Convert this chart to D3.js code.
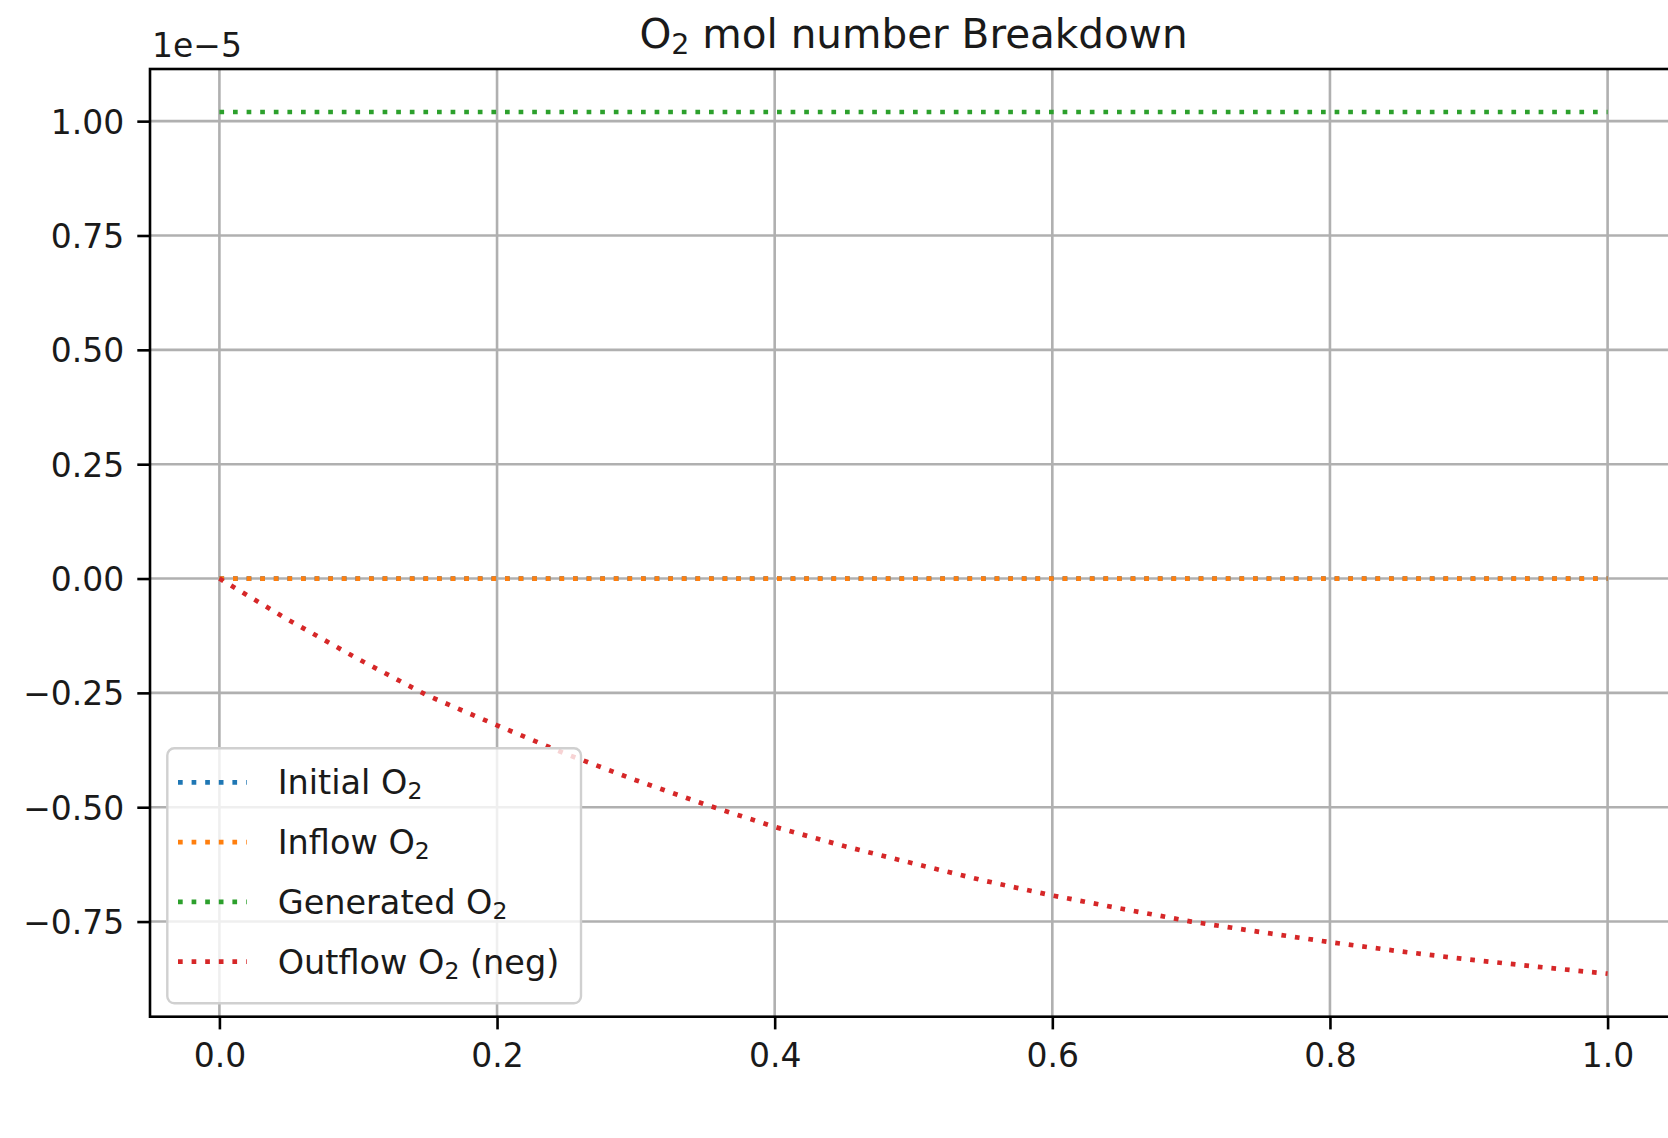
<!DOCTYPE html>
<html>
<head>
<meta charset="utf-8">
<script src="https://cdn.jsdelivr.net/npm/d3@7"></script>
<style>
  body { margin: 0; background: #fff; }
  text { font-family: "DejaVu Sans", sans-serif; fill: #1a1a1a; }
</style>
</head>
<body>
<svg id="chart"></svg>
<script>
// values are in units of 1e-5 mol (offset label shown top-left)
const timePoints  = [0, 0.05, 0.10, 0.15, 0.20, 0.25, 0.30, 0.35, 0.40, 0.45, 0.50,
                     0.55, 0.60, 0.65, 0.70, 0.75, 0.80, 0.85, 0.90, 0.95, 1.00];
const initialO2   = [0, 0, 0, 0, 0, 0, 0, 0, 0, 0, 0, 0, 0, 0, 0, 0, 0, 0, 0, 0, 0];
const inflowO2    = [0, 0, 0, 0, 0, 0, 0, 0, 0, 0, 0, 0, 0, 0, 0, 0, 0, 0, 0, 0, 0];
const generatedO2 = [1.02, 1.02, 1.02, 1.02, 1.02, 1.02, 1.02, 1.02, 1.02, 1.02, 1.02,
                     1.02, 1.02, 1.02, 1.02, 1.02, 1.02, 1.02, 1.02, 1.02, 1.02];
const outflowO2   = [0, -0.091, -0.176, -0.256, -0.321, -0.384, -0.441, -0.494, -0.543, -0.585, -0.623,
                     -0.660, -0.693, -0.722, -0.750, -0.773, -0.795, -0.815, -0.833, -0.849, -0.864];
const seriesNames = ["Initial O", "Inflow O", "Generated O", "Outflow O"];
const seriesTails = ["", "", "", " (neg)"];
const seriesColors = ["#1f77b4", "#ff7f0e", "#2ca02c", "#d62728"];
const xTicks = [0, 0.2, 0.4, 0.6, 0.8, 1.0];
const yTicks = [-0.75, -0.5, -0.25, 0, 0.25, 0.5, 0.75, 1.0];
const offsetLabel = "1e\u22125";

const W = 1668, H = 1138;
const margin = {left: 150, top: 69, right: 1677, bottom: 1016.7};

const svg = d3.select("#chart")
  .attr("width", W)
  .attr("height", H);

const x = d3.scaleLinear().domain([-0.05, 1.05]).range([margin.left, margin.right]);
const y = d3.scaleLinear().domain([-0.958, 1.114]).range([margin.bottom, margin.top]);

svg.append("defs").append("clipPath")
  .attr("id", "plotClip")
  .append("rect")
  .attr("x", margin.left)
  .attr("y", margin.top)
  .attr("width", margin.right - margin.left)
  .attr("height", margin.bottom - margin.top);

// grid
svg.append("g")
  .selectAll("line")
  .data(xTicks)
  .enter()
  .append("line")
  .attr("x1", d => x(d)).attr("x2", d => x(d))
  .attr("y1", margin.top).attr("y2", margin.bottom)
  .attr("stroke", "#b0b0b0")
  .attr("stroke-width", 2.6);

svg.append("g")
  .selectAll("line")
  .data(yTicks)
  .enter()
  .append("line")
  .attr("y1", d => y(d)).attr("y2", d => y(d))
  .attr("x1", margin.left).attr("x2", margin.right)
  .attr("stroke", "#b0b0b0")
  .attr("stroke-width", 2.6);

// series
const allSeries = [initialO2, inflowO2, generatedO2, outflowO2];
const line = d3.line()
  .x((d, i) => x(timePoints[i]))
  .y(d => y(d));

svg.append("g")
  .attr("clip-path", "url(#plotClip)")
  .selectAll("path")
  .data(allSeries)
  .enter()
  .append("path")
  .attr("d", d => line(d))
  .attr("fill", "none")
  .attr("stroke", (d, i) => seriesColors[i])
  .attr("stroke-width", 4.7)
  .attr("stroke-dasharray", "4.7 8.9");

// axes
const xAxis = svg.append("g")
  .attr("transform", `translate(0, ${margin.bottom})`)
  .call(d3.axisBottom(x).tickValues(xTicks).tickFormat(d3.format(".1f")).tickSize(12.7).tickPadding(13));
const yAxis = svg.append("g")
  .attr("transform", `translate(${margin.left}, 0)`)
  .call(d3.axisLeft(y).tickValues(yTicks).tickFormat(d3.format(".2f")).tickSize(12.7).tickPadding(13));

[xAxis, yAxis].forEach(a => {
  a.select(".domain").remove();
  a.selectAll(".tick line").attr("stroke", "#000").attr("stroke-width", 2.6);
  a.selectAll(".tick text").style("font-size", "33px").attr("fill", "#1a1a1a");
});
xAxis.selectAll(".tick text").attr("dy", "0.76em");
yAxis.selectAll(".tick text").attr("dy", "0.36em");

// spines
svg.append("rect")
  .attr("x", margin.left)
  .attr("y", margin.top)
  .attr("width", margin.right - margin.left)
  .attr("height", margin.bottom - margin.top)
  .attr("fill", "none")
  .attr("stroke", "#000")
  .attr("stroke-width", 2.6);

// offset label and title
svg.append("text")
  .attr("x", 152)
  .attr("y", 57)
  .style("font-size", "33px")
  .text(offsetLabel);

const title = svg.append("text")
  .attr("x", (margin.left + margin.right) / 2)
  .attr("y", 48)
  .attr("text-anchor", "middle")
  .style("font-size", "40.5px");
title.append("tspan").text("O");
title.append("tspan").attr("baseline-shift", "-6px").style("font-size", "28.5px").text("2");
title.append("tspan").text(" mol number Breakdown");

// legend
const legend = svg.append("g");
legend.append("rect")
  .attr("x", 167.3)
  .attr("y", 748.3)
  .attr("width", 581 - 167.3)
  .attr("height", 1003.3 - 748.3)
  .attr("rx", 7)
  .attr("fill", "#fff")
  .attr("fill-opacity", 0.8)
  .attr("stroke", "#d0d0d0")
  .attr("stroke-width", 2.4);

const rows = legend.selectAll(".row")
  .data(seriesNames)
  .enter()
  .append("g")
  .attr("class", "row")
  .attr("transform", (d, i) => `translate(0, ${782.3 + i * 59.8})`);

rows.append("line")
  .attr("x1", 178).attr("x2", 246.7)
  .attr("y1", 0).attr("y2", 0)
  .attr("stroke", (d, i) => seriesColors[i])
  .attr("stroke-width", 4.7)
  .attr("stroke-dasharray", "4.7 8.9");

const labels = rows.append("text")
  .attr("x", 277.7)
  .attr("y", 12)
  .style("font-size", "33.5px");
labels.append("tspan").text(d => d);
labels.append("tspan").attr("baseline-shift", "-5px").style("font-size", "23.5px").text("2");
labels.append("tspan").text((d, i) => seriesTails[i]);
</script>
</body>
</html>
